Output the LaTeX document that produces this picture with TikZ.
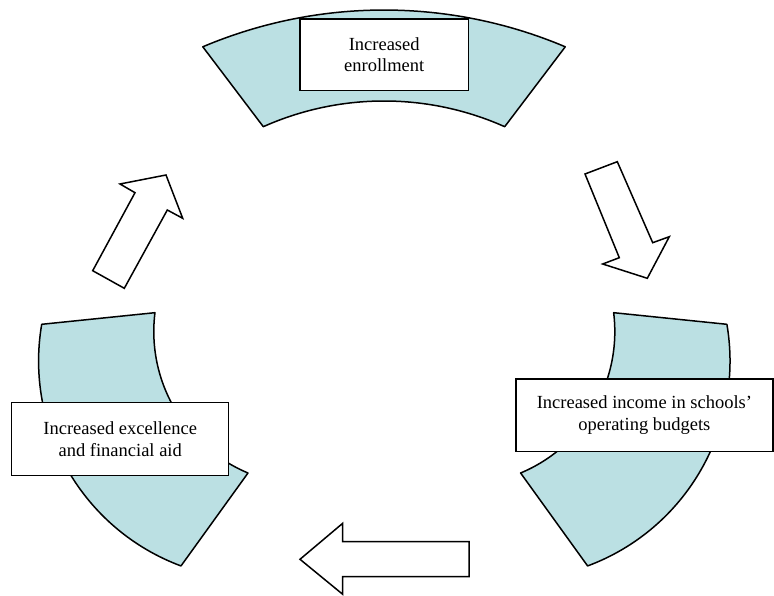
\documentclass[tikz,border=0pt]{standalone}
\usepackage{fontspec}
\setmainfont{Liberation Serif}
\definecolor{ringfill}{HTML}{BBE0E3}
\begin{document}
\begin{tikzpicture}[x=1pt,y=1pt,
  sector/.style={fill=ringfill, draw=black, line width=1.5pt, line join=round},
  blockarrow/.style={fill=white, draw=black, line width=1.5pt, line join=miter},
  textbox/.style={draw=black, fill=white, line width=1.5pt, align=center, inner sep=0pt,
    font=\fontsize{18.5}{21.5}\selectfont}]
\useasboundingbox (0,0) rectangle (774,595);
% ring segments
\draw[sector] (202.8,548.2) arc[start angle=112.94, end angle=67.06, radius=465]
  -- (504.7,468.3) arc[start angle=65.96, end angle=114.04, radius=296.3] -- cycle;
\draw[sector] (41.7,270.7) arc[start angle=170.34, end angle=249.58, radius=218.7]
  -- (248,122) arc[start angle=247.3, end angle=172.96, radius=153.4] -- cycle;
\draw[sector] (726.9,270.7) arc[start angle=9.66, end angle=-69.58, radius=218.7]
  -- (520.6,122) arc[start angle=-67.3, end angle=7.04, radius=153.4] -- cycle;
% text boxes
\node[textbox, minimum width=168.3pt, minimum height=71.7pt] (enroll) at (384.2,540.2) {Increased\\enrollment};
\node[textbox, minimum width=217pt, minimum height=73pt] (excel) at (120.2,155.8) {Increased excellence\\and financial aid};
\node[textbox, minimum width=257.3pt, minimum height=72.7pt] (income) at (644.4,179.7) {Increased income in schools’\\operating budgets};
% block arrows
\draw[blockarrow] (92.7,324.3) -- (124.3,306.7) -- (167.3,385) -- (182.7,376.7) -- (166,420) -- (120,411) -- (135,402.3) -- cycle;
\draw[blockarrow] (585,421) -- (617.3,433.3) -- (652.7,352.3) -- (669.3,358.3) -- (647.3,316.7) -- (602.7,331) -- (619.3,337.3) -- cycle;
\draw[blockarrow] (300,35.7) -- (342.7,71.7) -- (342.7,53.3) -- (469,53.3) -- (469,18.3) -- (342.7,18.3) -- (342.7,0.7) -- cycle;
\end{tikzpicture}
\end{document}
